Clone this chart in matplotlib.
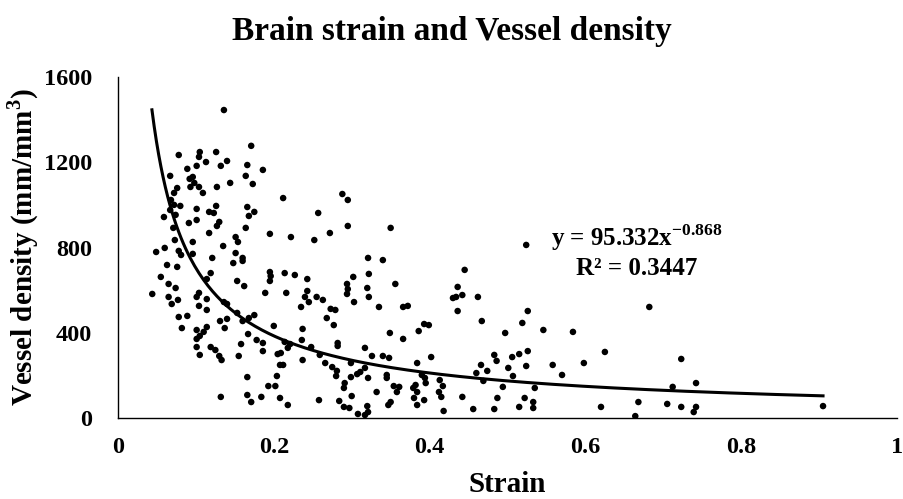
import numpy as np
import matplotlib
matplotlib.use('Agg')
import matplotlib.pyplot as plt

plt.rcParams['font.family'] = 'Liberation Serif'
plt.rcParams['font.weight'] = 'bold'
plt.rcParams['mathtext.fontset'] = 'custom'
plt.rcParams['mathtext.rm'] = 'Liberation Serif:bold'
plt.rcParams['mathtext.bf'] = 'Liberation Serif:bold'
plt.rcParams['xtick.labelsize'] = 17.5
plt.rcParams['ytick.labelsize'] = 17.5
plt.rcParams['xtick.major.pad'] = 14
plt.rcParams['ytick.major.pad'] = 18.5
plt.rcParams['xtick.major.size'] = 0
plt.rcParams['ytick.major.size'] = 0

# strain / vessel density
strain = [
    0.136, 0.171, 0.078, 0.105, 0.104, 0.113, 0.126, 0.140, 0.132, 0.166,
    0.186, 0.089, 0.101, 0.067, 0.096, 0.092, 0.098, 0.093, 0.104, 0.109,
    0.144, 0.164, 0.173, 0.127, 0.076, 0.072, 0.068, 0.072, 0.080, 0.101,
    0.126, 0.117, 0.123, 0.166, 0.175, 0.168, 0.067, 0.059, 0.074, 0.101,
    0.091, 0.130, 0.127, 0.071, 0.164, 0.117, 0.151, 0.154, 0.195, 0.073,
    0.096, 0.135, 0.049, 0.060, 0.078, 0.081, 0.096, 0.121, 0.151, 0.160,
    0.063, 0.076, 0.148, 0.160, 0.195, 0.196, 0.195, 0.119, 0.114, 0.055,
    0.065, 0.074, 0.153, 0.162, 0.189, 0.044, 0.065, 0.077, 0.069, 0.104,
    0.101, 0.114, 0.104, 0.114, 0.136, 0.140, 0.153, 0.175, 0.078, 0.089,
    0.082, 0.131, 0.140, 0.137, 0.160, 0.168, 0.114, 0.101, 0.110, 0.200,
    0.167, 0.178, 0.186, 0.101, 0.105, 0.101, 0.158, 0.119, 0.125, 0.130,
    0.133, 0.186, 0.105, 0.155, 0.205, 0.208, 0.166, 0.204, 0.193, 0.202,
    0.132, 0.166, 0.171, 0.184, 0.208,
    0.212, 0.288, 0.295, 0.257, 0.222, 0.252, 0.272, 0.295, 0.350, 0.321,
    0.340, 0.214, 0.227, 0.243, 0.216, 0.243, 0.240, 0.245, 0.255, 0.263,
    0.235, 0.273, 0.279, 0.268, 0.277, 0.302, 0.294, 0.295, 0.294, 0.303,
    0.322, 0.320, 0.322, 0.356, 0.335, 0.366, 0.372, 0.237, 0.349, 0.386,
    0.393, 0.399, 0.366, 0.214, 0.221, 0.218, 0.236, 0.248, 0.282, 0.282,
    0.209, 0.212, 0.237, 0.259, 0.266, 0.275, 0.281, 0.280, 0.299, 0.317,
    0.326, 0.340, 0.348, 0.317, 0.311, 0.307, 0.299, 0.321, 0.345, 0.345,
    0.384, 0.402, 0.390, 0.394, 0.395, 0.291, 0.290, 0.300, 0.332, 0.354,
    0.361, 0.358, 0.350, 0.347, 0.379, 0.382, 0.384, 0.380, 0.393, 0.384,
    0.413, 0.417, 0.412, 0.415, 0.218, 0.258, 0.284, 0.290, 0.297, 0.308,
    0.320, 0.321, 0.317, 0.418,
    0.524, 0.445, 0.436, 0.430, 0.434, 0.442, 0.462, 0.436, 0.467, 0.526,
    0.519, 0.497, 0.546, 0.584, 0.483, 0.486, 0.506, 0.515, 0.526, 0.524,
    0.466, 0.460, 0.474, 0.469, 0.501, 0.507, 0.558, 0.570, 0.598, 0.625,
    0.494, 0.535, 0.442, 0.487, 0.522, 0.533, 0.456, 0.483, 0.515, 0.533,
    0.620,
    0.682, 0.723, 0.742, 0.712, 0.668, 0.705, 0.723, 0.742, 0.739, 0.664,
    0.905,
]
density = [
    1445, 1277, 1234, 1248, 1225, 1201, 1248, 1206, 1183, 1187,
    1164, 1169, 1183, 1136, 1131, 1122, 1103, 1084, 1084, 1056,
    1103, 1136, 1098, 1084, 1079, 1056, 1023, 1000, 995, 981,
    995, 967, 962, 990, 967, 948, 976, 943, 953, 929,
    915, 920, 901, 892, 892, 868, 849, 826, 864, 835,
    826, 807, 779, 798, 784, 765, 770, 751, 774, 751,
    718, 709, 727, 737, 685, 666, 643, 680, 652, 662,
    629, 610, 643, 619, 587, 582, 568, 554, 535, 587,
    568, 558, 526, 507, 544, 535, 493, 483, 474, 479,
    422, 455, 465, 422, 455, 469, 427, 413, 404, 432,
    394, 366, 352, 371, 385, 333, 347, 333, 319, 291,
    272, 314, 296, 291, 300, 249, 192, 197, 150, 150,
    99, 108, 75, 99, 94,
    1032, 1051, 1023, 962, 849, 835, 868, 901, 892, 751,
    741, 680, 671, 652, 587, 596, 568, 544, 568, 554,
    521, 512, 507, 469, 436, 662, 629, 605, 582, 544,
    676, 610, 568, 629, 521, 521, 526, 418, 399, 408,
    441, 436, 371, 357, 347, 329, 366, 333, 352, 338,
    305, 249, 272, 296, 258, 239, 221, 197, 258, 329,
    291, 291, 282, 235, 216, 206, 192, 188, 202, 188,
    258, 286, 202, 188, 164, 164, 141, 103, 122, 150,
    146, 122, 75, 61, 141, 155, 122, 94, 84, 61,
    178, 150, 122, 99, 61, 84, 80, 52, 47, 19,
    56, 28, 14, 33,
    812, 695, 615, 563, 568, 577, 568, 502, 455, 502,
    446, 399, 413, 404, 296, 268, 286, 300, 314, 244,
    249, 211, 221, 174, 235, 197, 249, 202, 258, 310,
    146, 141, 99, 94, 94, 75, 42, 42, 52, 47,
    52,
    521, 277, 164, 146, 75, 66, 52, 52, 28, 9,
    56,
]

fit_a = 95.332
fit_b = -0.868
fit_range = [0.0436, 0.905]

fig = plt.figure(figsize=(9.04, 4.99), dpi=100)
ax = fig.add_axes([0.1305, 0.1623, 0.8618, 0.6834])

ax.scatter(strain, density, s=22, color='black', edgecolors='none', zorder=3)

xs = np.linspace(fit_range[0], fit_range[1], 300)
ax.plot(xs, fit_a * xs ** fit_b, color='black', lw=2.2, zorder=4)

ax.set_xlim(0, 1)
ax.set_ylim(0, 1600)
ax.set_xticks([0, 0.2, 0.4, 0.6, 0.8, 1])
ax.set_xticklabels(['0', '0.2', '0.4', '0.6', '0.8', '1'])
ax.set_yticks([0, 400, 800, 1200, 1600])
for lbl in ax.get_xticklabels() + ax.get_yticklabels():
    lbl.set_fontweight('bold')
ax.spines['top'].set_visible(False)
ax.spines['right'].set_visible(False)
ax.spines['left'].set_linewidth(1.0)
ax.spines['bottom'].set_linewidth(1.0)

ax.set_xlabel('Strain', fontsize=21, fontweight='bold', labelpad=9)
ax.set_ylabel('Vessel density (mm/mm$^{3}$)', fontsize=21, fontweight='bold', labelpad=2)
fig.suptitle('Brain strain and Vessel density', fontsize=24, fontweight='bold', x=0.5, y=0.968)

ax.text(0.666, 0.528, r'y = 95.332x$^{-0.868}$', transform=ax.transAxes,
        fontsize=18, fontweight='bold', ha='center', va='center')
ax.text(0.666, 0.437, 'R² = 0.3447', transform=ax.transAxes,
        fontsize=18, fontweight='bold', ha='center', va='center')

fig.savefig('out.png', dpi=100)
